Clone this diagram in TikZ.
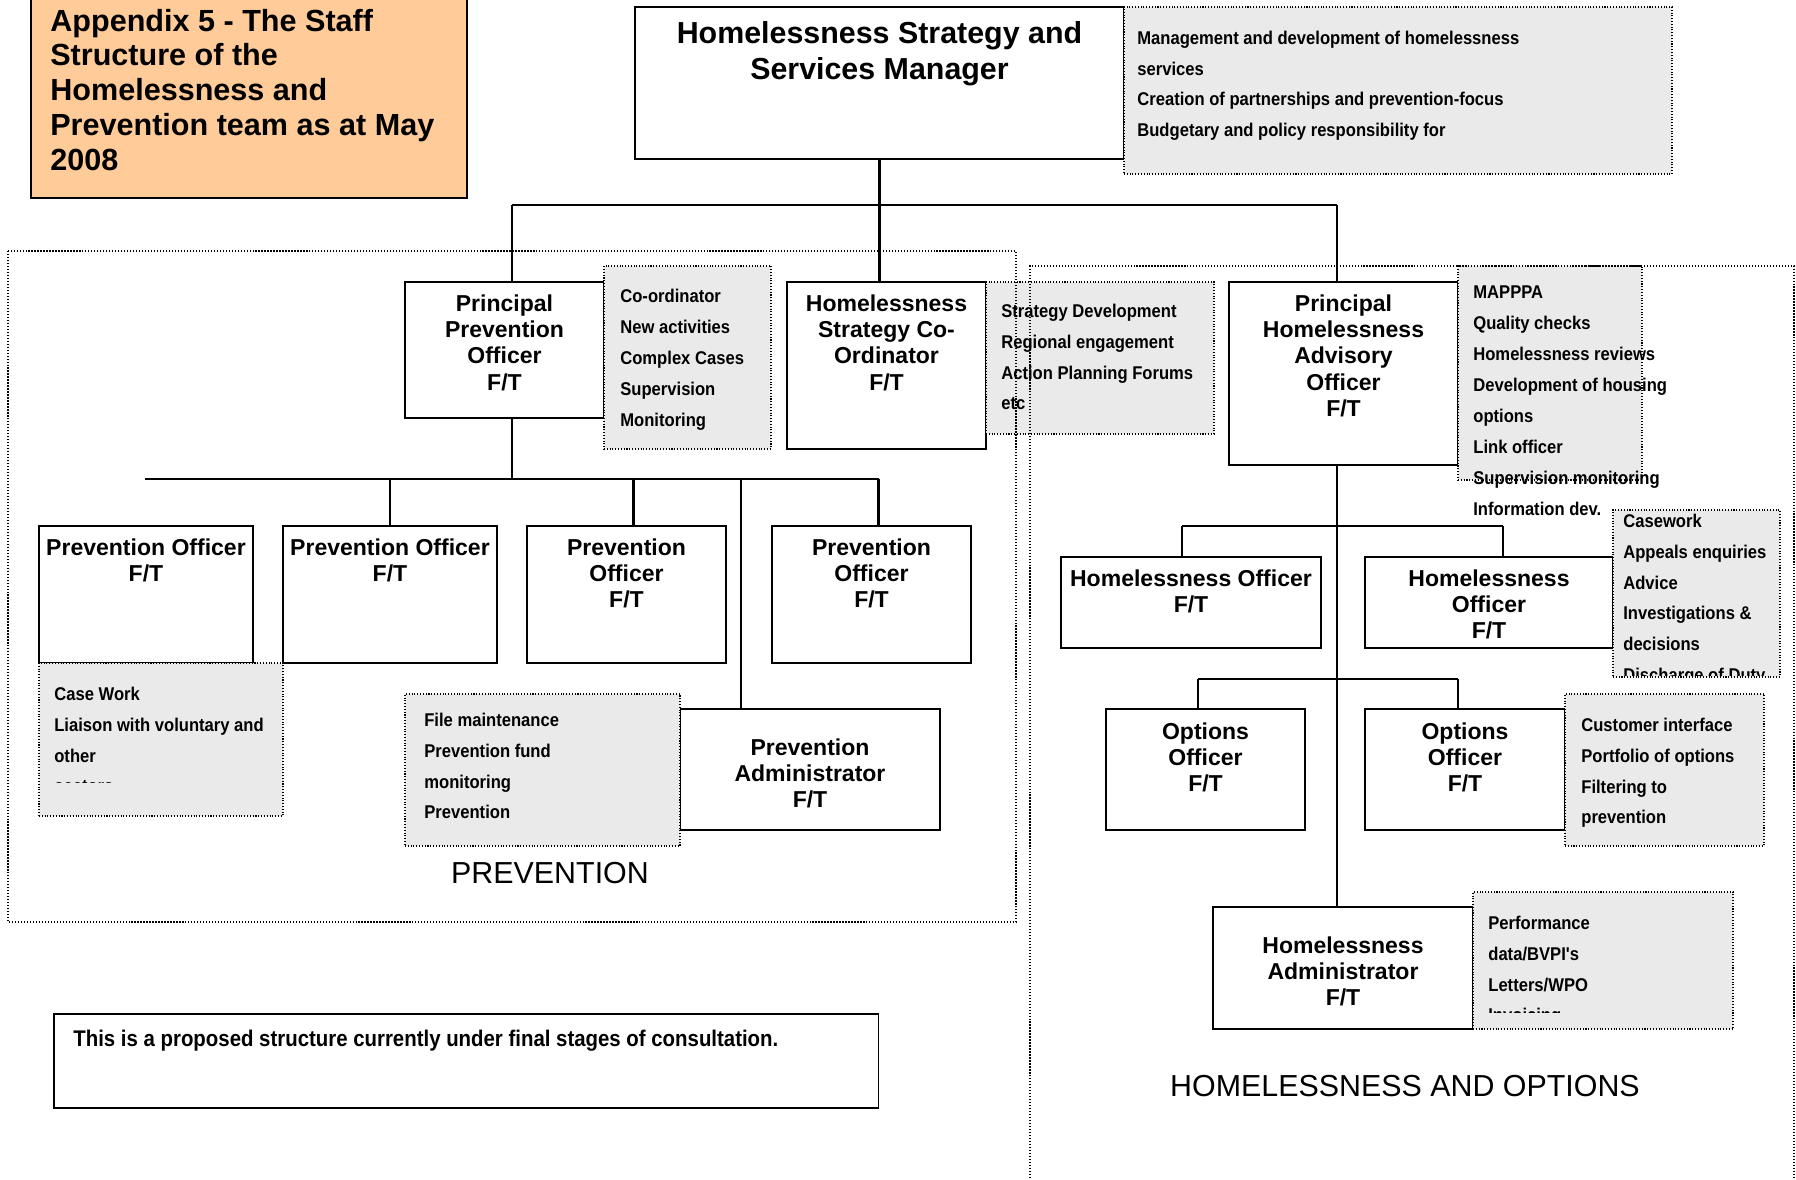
\documentclass[tikz,border=0pt]{standalone}
\usepackage{fontspec}
\setmainfont{Liberation Sans}
\newfontfamily\dutyfont{Liberation Sans}[FakeStretch=0.9]
\usepackage{tikz}
\usetikzlibrary{fit, positioning}
\definecolor{dutygrey}{RGB}{234,234,234}
\definecolor{titleorange}{RGB}{255,204,153}
\tikzset{
  post/.style={draw=black, line width=1.1pt, fill=white, inner sep=0pt},
  posttext/.style={anchor=north, align=center, inner sep=0pt, font=\bfseries\fontsize{13.1}{15}\selectfont},
  duties/.style={draw=black, densely dotted, line width=0.6pt, fill=dutygrey, inner sep=0pt},
  dutytext/.style={anchor=north west, align=left, inner sep=0pt, font=\dutyfont\bfseries\fontsize{10.5}{17.6}\selectfont},
  area/.style={draw=black, densely dotted, line width=0.7pt},
  link/.style={line width=1.2pt},
  teamlabel/.style={inner sep=0pt, font=\fontsize{17.3}{20}\selectfont}
}
\begin{document}
\begin{tikzpicture}[x=0.02cm, y=-0.02cm]
    \useasboundingbox (0,0) rectangle (1796,1180);
    \node[post, fit={(635,7) (1124,159)}] (mgr) {};
    \node[post, fit={(405,282) (604,418)}] (ppo) {};
    \node[post, fit={(787,282) (986,449)}] (hsc) {};
    \node[post, fit={(1229,282) (1458,465)}] (phao) {};
    \node[post, fit={(39,526) (253,663)}] (po1) {};
    \node[post, fit={(283,526) (497,663)}] (po2) {};
    \node[post, fit={(527,526) (726,663)}] (po3) {};
    \node[post, fit={(772,526) (971,663)}] (po4) {};
    \node[post, fit={(680,709) (940,830)}] (padmin) {};
    \node[post, fit={(1061,557) (1321,648)}] (ho1) {};
    \node[post, fit={(1365,557) (1613,648)}] (ho2) {};
    \node[post, fit={(1106,709) (1305,830)}] (oo1) {};
    \node[post, fit={(1365,709) (1565,830)}] (oo2) {};
    \node[post, fit={(1213,907) (1473,1029)}] (hadmin) {};

    \coordinate (barL) at (512,205);
    \coordinate (barR) at (1337,205);
    \coordinate (pbarL) at (145,479);
    \coordinate (pbarR) at (878.5,479);
    \coordinate (drop3) at (633.5,479);
    \coordinate (adrop) at (741,479);
    \coordinate (hbarL) at (1182,526);
    \coordinate (hbarR) at (1503,526);
    \coordinate (obarL) at (1198,679);
    \coordinate (obarR) at (1458,679);
    \draw[link] (mgr.south) -- (mgr.south |- hsc.north);
    \draw[link] (barL) -- (barR);
    \draw[link] (barL) -- (barL |- ppo.north);
    \draw[link] (barR) -- (barR |- phao.north);
    \draw[link] (barL |- ppo.south) -- (barL |- pbarL);
    \draw[link] (pbarL) -- (pbarR);
    \draw[link] (po2.north) -- (po2.north |- pbarL);
    \draw[link] (drop3) -- (drop3 |- po3.north);
    \draw[link] (pbarR) -- (pbarR |- po4.north);
    \draw[link] (adrop) -- (adrop |- padmin.north);
    \draw[link] (barR |- phao.south) -- (barR |- hadmin.north);
    \draw[link] (hbarL) -- (hbarR);
    \draw[link] (hbarL) -- (hbarL |- ho1.north);
    \draw[link] (hbarR) -- (hbarR |- ho2.north);
    \draw[link] (obarL) -- (obarR);
    \draw[link] (obarL) -- (obarL |- oo1.north);
    \draw[link] (obarR) -- (obarR |- oo2.north);

    \node[posttext, font=\bfseries\fontsize{17.3}{20.5}\selectfont] (mgr-t) at ([yshift=-0.3cm]mgr.north) {Homelessness Strategy and\\Services Manager};
    \node[posttext] (ppo-t) at ([yshift=-0.26cm]ppo.north) {Principal\\Prevention\\Officer\\F/T};
    \node[posttext] (hsc-t) at ([yshift=-0.26cm]hsc.north) {Homelessness\\Strategy Co-\\Ordinator\\F/T};
    \node[posttext] (phao-t) at ([yshift=-0.26cm]phao.north) {Principal\\Homelessness\\Advisory\\Officer\\F/T};
    \node[posttext] (po1-t) at ([yshift=-0.26cm]po1.north) {Prevention Officer\\F/T};
    \node[posttext] (po2-t) at ([yshift=-0.26cm]po2.north) {Prevention Officer\\F/T};
    \node[posttext] (po3-t) at ([yshift=-0.26cm]po3.north) {Prevention\\Officer\\F/T};
    \node[posttext] (po4-t) at ([yshift=-0.26cm]po4.north) {Prevention\\Officer\\F/T};
    \node[posttext] (padmin-t) at ([yshift=-0.6cm]padmin.north) {Prevention\\Administrator\\F/T};
    \node[posttext] (ho1-t) at ([yshift=-0.26cm]ho1.north) {Homelessness Officer\\F/T};
    \node[posttext] (ho2-t) at ([yshift=-0.26cm]ho2.north) {Homelessness\\Officer\\F/T};
    \node[posttext] (oo1-t) at ([yshift=-0.28cm]oo1.north) {Options\\Officer\\F/T};
    \node[posttext] (oo2-t) at ([yshift=-0.28cm]oo2.north) {Options\\Officer\\F/T};
    \node[posttext] (hadmin-t) at ([yshift=-0.6cm]hadmin.north) {Homelessness\\Administrator\\F/T};

    \node[duties, fit={(1124,7) (1672,174)}] (mgr-d) {};
    \node[dutytext] (mgr-dt) at (1137,30.4) {Management and development of homelessness\\services\\Creation of partnerships and prevention-focus\\Budgetary and policy responsibility for};
    \node[duties, fit={(604,266) (771,449)}] (ppo-d) {};
    \node[dutytext] (ppo-dt) at (620,289) {Co-ordinator\\New activities\\Complex Cases\\Supervision\\Monitoring};
    \node[duties, fit={(986,282) (1214,434)}] (hsc-d) {};
    \node[dutytext] (hsc-dt) at (1001,303.5) {Strategy Development\\Regional engagement\\Action Planning Forums\\etc};
    \node[duties, fit={(1458,266) (1642,480)}] (phao-d) {};
    \node[dutytext] (phao-dt) at (1473,285.5) {MAPPPA\\Quality checks\\Homelessness reviews\\Development of housing\\options\\Link officer\\Supervision monitoring\\Information dev.};
    \node[duties, fit={(39,663) (283,816)}] (po1-d) {};
    \begin{scope}
        \clip (39,663) rectangle (283,782);
        \node[dutytext] (po1-dt) at (54,686.5) {Case Work\\Liaison with voluntary and\\other\\sectors};
    \end{scope}
    \node[duties, fit={(405,694) (680,846)}] (padmin-d) {};
    \node[dutytext] (padmin-dt) at (424,712.5) {File maintenance\\Prevention fund\\monitoring\\Prevention};
    \node[duties, fit={(1613,510) (1780,677)}] (ho2-d) {};
    \begin{scope}
        \clip (1613,510) rectangle (1780,675);
        \node[dutytext] (ho2-dt) at (1623,513.5) {Casework\\Appeals enquiries\\Advice\\Investigations \&\\decisions\\Discharge of Duty};
    \end{scope}
    \node[duties, fit={(1565,694) (1764,846)}] (oo2-d) {};
    \node[dutytext] (oo2-dt) at (1581,717.5) {Customer interface\\Portfolio of options\\Filtering to\\prevention};
    \node[duties, fit={(1473,892) (1733,1029)}] (hadmin-d) {};
    \begin{scope}
        \clip (1473,892) rectangle (1733,1012);
        \node[dutytext] (hadmin-dt) at (1488,915.5) {Performance\\data/BVPI's\\Letters/WPO\\Invoicing};
    \end{scope}

    \draw[area] (8,251) rectangle (1016,922);
    \draw[area] (1030,1184) -- (1030,266) -- (1794,266) -- (1794,1184);
    \node[teamlabel] (prevlabel) at (550,873) {PREVENTION};
    \node[teamlabel] (homelabel) at (1405,1086) {HOMELESSNESS AND OPTIONS};

    \node[post, fill=titleorange, fit={(31,-4) (467,198)}] (title) {};
    \node[anchor=north west, align=left, inner sep=0pt, font=\bfseries\fontsize{17.4}{19.9}\selectfont] (title-t) at (50,8.5) {Appendix 5 - The Staff\\Structure of the\\Homelessness and\\Prevention team as at May\\2008};
    \node[post, fit={(54,1014) (878.5,1108)}] (note) {};
    \node[anchor=north west, inner sep=0pt, font=\dutyfont\bfseries\fontsize{12.9}{15}\selectfont] (note-t) at (73,1030) {This is a proposed structure currently under final stages of consultation.};
\end{tikzpicture}
\end{document}
